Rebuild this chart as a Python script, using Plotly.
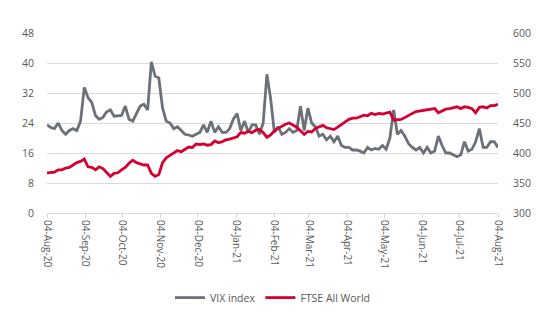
import pandas as pd
import plotly.graph_objects as go

# Sample dates (roughly every third day across the year)
dates = pd.date_range("2020-08-04", "2021-08-04", periods=122)

vix_index = [
    23.5, 22.8, 22.5, 24.0, 22.0, 21.0, 22.0, 22.5, 22.0, 24.5,
    33.5, 30.8, 29.5, 26.0, 25.0, 25.5, 27.0, 27.5, 25.8, 26.0,
    26.0, 28.5, 25.0, 24.5, 26.5, 28.5, 29.0, 27.5, 40.3, 36.5,
    36.0, 28.0, 24.5, 24.0, 22.5, 23.0, 22.0, 21.0, 20.8, 20.5,
    21.0, 21.5, 23.5, 21.5, 24.5, 21.5, 23.0, 21.5, 21.5, 22.5,
    25.0, 26.5, 22.0, 24.5, 21.5, 23.5, 23.5, 21.0, 24.0, 37.0,
    30.5, 21.5, 23.0, 21.0, 21.5, 22.5, 21.5, 22.0, 28.5, 22.0,
    28.0, 24.0, 23.0, 20.5, 21.0, 19.5, 20.5, 19.0, 20.5, 18.0,
    17.5, 17.5, 16.8, 16.8, 16.5, 16.0, 17.5, 16.8, 17.2, 17.0,
    18.0, 17.0, 20.0, 27.5, 21.0, 22.0, 20.5, 18.5, 17.5, 16.8,
    17.5, 16.0, 17.5, 16.0, 16.5, 20.5, 18.0, 16.0, 16.0, 15.5,
    15.0, 15.5, 19.0, 16.5, 17.0, 19.0, 22.5, 17.5, 17.5, 19.0,
    19.0, 17.5,
]

ftse_all_world = [
    367, 367, 368, 372, 372, 375, 376, 380, 384, 386,
    390, 377, 376, 372, 377, 374, 368, 361, 366, 367,
    372, 376, 383, 388, 384, 382, 380, 380, 366, 361,
    364, 384, 392, 396, 400, 404, 402, 406, 410, 409,
    415, 414, 415, 413, 414, 420, 417, 419, 422, 423,
    425, 427, 434, 433, 436, 434, 438, 439, 434, 426,
    430, 437, 441, 445, 448, 450, 447, 443, 437, 431,
    436, 435, 441, 444, 446, 442, 441, 439, 443, 448,
    452, 456, 458, 458, 460, 463, 462, 466, 464, 466,
    465, 466, 468, 455, 456, 456, 459, 463, 466, 469,
    470, 471, 471, 473, 474, 467, 470, 473, 474, 475,
    477, 474, 477, 476, 474, 467, 476, 477, 475, 479,
    479, 481,
]

GREY = "#6b7079"
RED = "#d5002f"
TEXT = "#595959"
GRID = "#d9d9d9"
FONT = "Open Sans"

fig = go.Figure()
fig.add_trace(go.Scatter(
    x=dates, y=vix_index, name="VIX index", mode="lines",
    line=dict(color=GREY, width=2.8), yaxis="y",
))
fig.add_trace(go.Scatter(
    x=dates, y=ftse_all_world, name="FTSE All World", mode="lines",
    line=dict(color=RED, width=2.8), yaxis="y2",
))

fig.update_layout(
    width=550, height=330,
    margin=dict(l=47, r=52, t=33, b=117),
    paper_bgcolor="white", plot_bgcolor="white",
    font=dict(family=FONT, size=10, color=TEXT),
    showlegend=True,
    legend=dict(
        orientation="h", x=0.5, xanchor="center", y=-0.47, yanchor="middle",
        font=dict(family=FONT, size=10.5, color=TEXT),
        itemwidth=30, traceorder="normal",
    ),
    xaxis=dict(
        type="date",
        range=["2020-08-04", "2021-08-04"],
        tick0="2020-08-04", dtick="M1", tickformat="%d-%b-%y",
        tickangle=90,
        showgrid=False,
        showline=True, linecolor=GRID, linewidth=1,
        ticks="outside", ticklen=4, tickcolor=GRID,
        tickfont=dict(family=FONT, size=10, color=TEXT),
        zeroline=False, automargin=False,
    ),
    yaxis=dict(
        range=[0, 48], tick0=0, dtick=8,
        showgrid=True, gridcolor=GRID, gridwidth=1,
        zeroline=False, showline=False,
        ticks="outside", ticklen=10, tickcolor="rgba(0,0,0,0)",
        tickfont=dict(family=FONT, size=10.5, color=TEXT),
        automargin=False,
    ),
    yaxis2=dict(
        range=[300, 600], tick0=300, dtick=50,
        overlaying="y", side="right",
        showgrid=False, zeroline=False, showline=False,
        ticks="outside", ticklen=12, tickcolor="rgba(0,0,0,0)",
        tickfont=dict(family=FONT, size=10.5, color=TEXT),
        automargin=False,
    ),
)

fig.write_html("out.html")
